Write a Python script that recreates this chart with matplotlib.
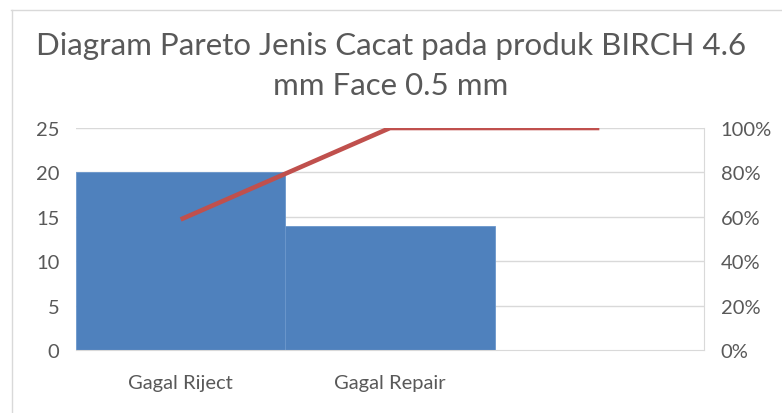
import matplotlib.pyplot as plt
from matplotlib.lines import Line2D
from matplotlib.ticker import FuncFormatter

# data
categories = ["Gagal Riject", "Gagal Repair", ""]
counts = [20, 14, 0]
cum_pct = [58.8, 100, 100]

left_ticks = [0, 5, 10, 15, 20, 25]
right_ticks = [0, 20, 40, 60, 80, 100]

plt.rcParams['font.family'] = ['Lato', 'DejaVu Sans']
txt = '#595959'
grid = '#d9d9d9'

W, H = 782, 414
fig = plt.figure(figsize=(W / 100, H / 100), dpi=100)

# chart outer border (left and top edges only are inside the picture)
fig.add_artist(Line2D([11 / W, 1], [1 - 10.5 / H, 1 - 10.5 / H], transform=fig.transFigure, color=grid, lw=1))
fig.add_artist(Line2D([11.5 / W, 11.5 / W], [0, 1 - 10.5 / H], transform=fig.transFigure, color=grid, lw=1))

ax = fig.add_axes([76 / W, (H - 351) / H, (704 - 76) / W, (351 - 129) / H])
x = range(len(categories))
ax.bar(x, counts, width=1.0, color='#4f81bd', edgecolor='#6b97cc', lw=0.6, zorder=2)
ax.set_xlim(-0.5, 2.5)
ax.set_ylim(0, 25)
ax.set_yticks(left_ticks)
ax.set_xticks(list(x))
ax.set_xticklabels(categories)
for y in left_ticks[1:]:
    ax.axhline(y, color=grid, lw=1, zorder=1)
for s in ['top', 'left']:
    ax.spines[s].set_visible(False)
ax.spines['bottom'].set_color(grid)
ax.spines['right'].set_color(grid)
ax.tick_params(length=0, labelsize=14.5, colors=txt)
ax.tick_params(axis='y', pad=12)
ax.tick_params(axis='x', pad=17)

ax2 = ax.twinx()
ax2.plot(list(x), cum_pct, color='#c0504d', lw=3.3, zorder=3, solid_capstyle='butt')
ax2.set_ylim(0, 100)
ax2.set_yticks(right_ticks)
ax2.yaxis.set_major_formatter(FuncFormatter(lambda v, p: f"{v:.0f}%"))
for s in ['top', 'left', 'bottom', 'right']:
    ax2.spines[s].set_visible(False)
ax2.tick_params(length=0, labelsize=14.5, colors=txt, pad=12)

fig.text(0.5, 1 - 66 / H, "Diagram Pareto Jenis Cacat pada produk BIRCH 4.6\nmm Face 0.5 mm",
         ha='center', va='center', fontsize=22.5, color=txt, linespacing=1.55)

fig.savefig("out.png", dpi=100)
